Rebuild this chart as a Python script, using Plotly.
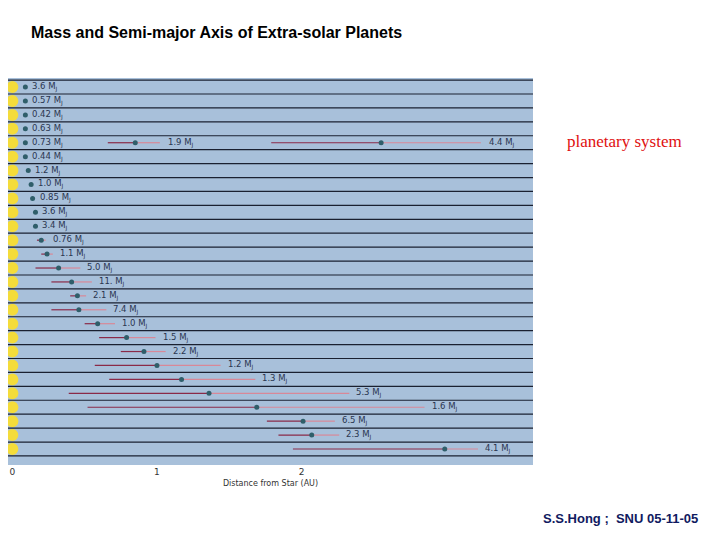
import plotly.graph_objects as go

# one row per planet, top to bottom
masses = ["3.6", "0.57", "0.42", "0.63", "0.73", "0.44", "1.2", "1.0", "0.85", "3.6", "3.4",
          "0.76", "1.1", "5.0", "11.", "2.1", "7.4", "1.0", "1.5", "2.2", "1.2", "1.3",
          "5.3", "1.6", "6.5", "2.3", "4.1"]
a_au = [0.09, 0.09, 0.09, 0.09, 0.09, 0.09, 0.11, 0.13, 0.14, 0.16, 0.16,
        0.20, 0.24, 0.32, 0.41, 0.45, 0.46, 0.59, 0.79, 0.91, 1.00, 1.17,
        1.36, 1.69, 2.01, 2.07, 2.99]
a_min = [None] * 11 + [0.17, 0.20, 0.16, 0.27, 0.40, 0.27, 0.50, 0.60, 0.75, 0.57, 0.67,
                       0.39, 0.52, 1.76, 1.84, 1.94]
a_max = [None] * 11 + [0.23, 0.28, 0.47, 0.55, 0.51, 0.65, 0.71, 0.99, 1.06, 1.44, 1.68,
                       2.33, 2.85, 2.23, 2.26, 3.22]

# extra planets sharing row 5 (upsilon Andromedae)
extra_row = [4, 4]
extra_mass = ["1.9", "4.4"]
extra_a = [0.85, 2.55]
extra_min = [0.66, 1.79]
extra_max = [1.02, 3.24]

rows = list(range(len(masses)))
fig = go.Figure()

# orbit spans: darker red inside, pink outside
def add_span(lo, mid, hi, y):
    fig.add_trace(go.Scatter(x=[lo, mid], y=[y, y], mode="lines",
                             line=dict(color="#8a2a48", width=1.2), hoverinfo="skip"))
    fig.add_trace(go.Scatter(x=[mid, hi], y=[y, y], mode="lines",
                             line=dict(color="#d88898", width=1.2), hoverinfo="skip"))

for i in rows:
    if a_min[i] is not None:
        add_span(a_min[i], a_au[i], a_max[i], i)
for k in range(len(extra_a)):
    add_span(extra_min[k], extra_a[k], extra_max[k], extra_row[k])

# row separators
for i in rows:
    fig.add_hline(y=i + 0.5, line=dict(color="#1a2030", width=1.2))
fig.add_hline(y=-0.5, line=dict(color="#1a2030", width=1.2))

# stars at the left
fig.add_trace(go.Scatter(x=[0.0] * len(rows), y=rows, mode="markers", cliponaxis=False,
                         marker=dict(color="#f4dc3a", size=12), hoverinfo="skip"))

# planets
fig.add_trace(go.Scatter(x=a_au + extra_a, y=rows + extra_row, mode="markers",
                         marker=dict(color="#2f5e6a", size=5), hoverinfo="skip"))

# mass labels
for i in rows:
    xl = a_au[i] if a_max[i] is None else max(a_au[i], a_max[i])
    fig.add_annotation(x=xl, y=i, text=masses[i] + " M<sub>J</sub>", showarrow=False,
                       xanchor="left", xshift=5, font=dict(family="DejaVu Sans", size=8.5, color="#2a3550"))
for k in range(len(extra_a)):
    fig.add_annotation(x=extra_max[k], y=extra_row[k], text=extra_mass[k] + " M<sub>J</sub>",
                       showarrow=False, xanchor="left", xshift=6,
                       font=dict(family="DejaVu Sans", size=8.5, color="#2a3550"))

fig.update_layout(
    width=720, height=540, showlegend=False,
    margin=dict(l=0, r=195, t=70, b=83),
    plot_bgcolor="#a8c0da", paper_bgcolor="white",
    xaxis=dict(range=[-0.03, 3.6], tickvals=[0, 1, 2], showgrid=False, zeroline=False,
               ticks="", tickfont=dict(family="DejaVu Sans", size=9, color="#333"),
               title=dict(text="Distance from Star (AU)", standoff=4,
                          font=dict(family="DejaVu Sans", size=8, color="#333"))),
    yaxis=dict(range=[27.15, -0.65], showticklabels=False, showgrid=False, zeroline=False),
    title=dict(text="<b>Mass and Semi-major Axis of Extra-solar Planets</b>", x=0.032, y=0.954,
               xanchor="left", yanchor="middle",
               font=dict(family="Liberation Sans", size=16, color="black")),
)
fig.add_annotation(xref="paper", yref="paper", x=1.175, y=0.835, xanchor="center", yanchor="middle",
                   text="planetary system", showarrow=False,
                   font=dict(family="Liberation Serif", size=17, color="#e01010"))
fig.add_annotation(xref="paper", yref="paper", x=1.318, y=-0.137, xanchor="right", yanchor="middle",
                   text="<b>S.S.Hong ;  SNU 05-11-05</b>", showarrow=False,
                   font=dict(family="Liberation Sans", size=13, color="#101a60"))

fig.write_html("out.html")
